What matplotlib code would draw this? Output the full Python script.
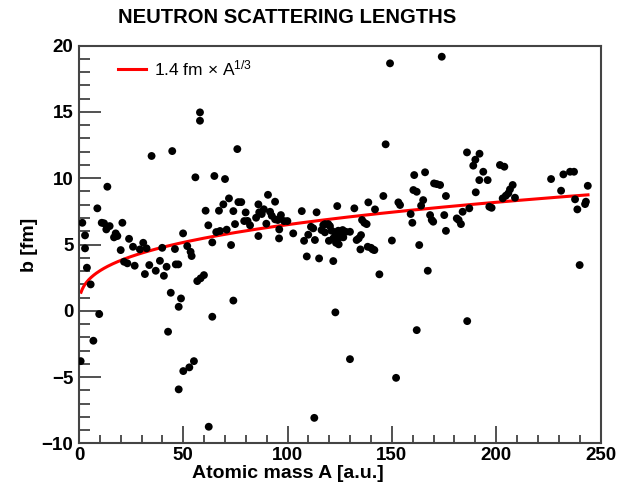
import numpy as np
import matplotlib.pyplot as plt

plt.rcParams['font.family'] = ['Liberation Sans', 'DejaVu Sans']
plt.rcParams['mathtext.fontset'] = 'custom'
plt.rcParams['mathtext.rm'] = 'Liberation Sans'
plt.rcParams['mathtext.it'] = 'Liberation Sans:italic'

# atomic mass A [a.u.] and scattering length b [fm]
mass = [
    0.8, 1.6, 2.9, 2.9, 3.8, 5.6, 6.9, 8.8, 9.7, 10.9, 12.0, 13.1, 13.6, 14.7,
    16.8, 17.6, 18.4, 20.0, 20.8, 21.6, 23.2, 24.0, 25.9, 26.7, 29.2, 30.8,
    31.6, 32.4, 33.7, 34.8, 36.8, 38.8, 39.9, 40.7, 42.0, 42.7, 44.0, 44.7,
    46.0, 46.4, 47.6, 47.8, 47.8, 48.9, 49.9, 50.0, 51.9, 52.9, 53.5, 54.0,
    55.1, 55.8, 56.7, 58.0, 58.0, 58.3, 59.9, 60.7, 62.0, 62.2, 63.9, 63.9,
    64.9, 65.8, 67.6, 67.1, 69.2, 70.0, 70.8, 71.9, 72.9, 74.0, 74.0, 74.8,
    75.9, 76.4, 77.8, 79.2, 79.9, 80.8, 82.0, 84.9, 86.0, 86.0, 86.4, 87.6,
    88.6, 89.8, 90.6, 91.6, 92.4, 94.0, 94.0, 95.3, 95.9, 96.0, 96.8, 98.3,
    99.9, 102.7, 106.8, 107.9, 109.2, 109.9, 111.2, 112.3, 112.8, 113.1,
    113.9, 115.1, 117.1, 117.9, 119.5, 120.3, 116.3, 117.9, 121.1, 122.7,
    124.3, 119.8, 121.9, 123.2, 121.9, 122.9, 123.8, 124.5, 124.8, 125.6,
    126.4, 126.7, 127.9, 129.9, 129.9, 132.0, 133.1, 134.1, 135.2, 134.9,
    135.7, 136.8, 137.9, 138.4, 140.0, 140.8, 141.6, 138.7, 141.9, 144.0,
    145.9, 147.0, 149.1, 150.0, 152.0, 153.1, 153.9, 159.0, 159.8, 160.3,
    161.9, 160.7, 161.9, 163.1, 164.0, 165.0, 165.9, 167.2, 168.3, 169.1,
    169.8, 170.2, 171.5, 173.1, 173.9, 175.1, 175.9, 175.9, 181.1, 182.0,
    183.1, 183.9, 186.0, 192.0, 190.0, 189.0, 186.1, 187.1, 190.2, 191.9,
    195.9, 193.8, 196.7, 197.8, 201.8, 203.9, 203.1, 204.6, 205.8, 206.6,
    207.9, 209.0, 226.3, 231.1, 232.2, 235.4, 237.3, 237.8, 238.9, 240.0,
    242.6, 243.0, 243.9,
]
b_fm = [
    -3.8, 6.64, 5.69, 4.71, 3.25, 1.99, -2.26, 7.73, -0.25, 6.64, 6.6, 6.14,
    9.36, 6.39, 5.54, 5.84, 5.64, 4.58, 6.64, 3.7, 3.58, 5.43, 4.83, 3.4,
    4.63, 5.13, 2.77, 4.71, 3.45, 11.68, 3.02, 3.77, 4.75, 2.64, 3.32, -1.58,
    1.36, 12.05, 4.66, 3.5, 3.5, 0.3, -5.93, 0.93, 5.84, -4.55, 4.88, -4.27,
    4.45, 4.13, -3.8, 10.07, 2.24, 14.97, 14.34, 2.45, 2.69, 7.55, 6.45,
    -8.75, 5.16, -0.45, 10.17, 5.94, 6.02, 7.55, 8.03, 9.94, 6.12, 8.48,
    4.96, 7.52, 0.77, 6.54, 12.2, 8.2, 8.2, 6.77, 7.42, 6.78, 6.45, 7.02,
    8.03, 5.64, 7.43, 7.3, 7.66, 6.57, 8.75, 7.47, 7.17, 8.23, 6.9, 6.85,
    5.46, 6.14, 7.22, 6.77, 6.77, 5.84, 7.52, 5.28, 4.1, 5.74, 6.34, 6.22,
    -8.08, 5.34, 7.43, 3.95, 6.47, 6.54, 6.54, 6.39, 6.09, 5.92, 6.04, 5.92,
    6.04, 5.28, 5.46, 5.13, 3.75, -0.12, 7.9, 5.01, 5.54, 5.79, 6.09, 5.54,
    5.96, 5.96, -3.65, 7.73, 5.34, 5.46, 5.71, 4.63, 6.85, 6.64, 6.54, 4.83,
    4.75, 4.63, 4.58, 8.18, 7.65, 2.75, 8.66, 12.56, 18.67, 5.3, -5.06, 8.18,
    7.98, 7.3, 6.64, 9.11, 8.98, 10.24, -1.46, 4.96, 7.93, 8.35, 10.45, 3.02,
    7.22, 6.85, 6.72, 9.61, 9.56, 9.49, 19.17, 7.22, 8.66, 6.03, 6.97, 6.85,
    6.54, 7.47, 11.95, 11.85, 11.4, 10.95, -0.78, 7.73, 8.94, 9.86, 9.86,
    10.49, 7.85, 7.77, 11.0, 10.87, 8.48, 8.68, 8.86, 9.16, 9.49, 8.53, 9.94,
    9.06, 10.29, 10.49, 10.49, 8.41, 7.65, 3.45, 8.05, 8.23, 9.43,
]

# model curve b = r0 * A^(1/3)
r0 = 1.4
a_min, a_max = 1.0, 244.0

fig = plt.figure(figsize=(6.18, 4.99), dpi=100)
ax = fig.add_axes([0.1278, 0.1116, 0.8439, 0.7968])

ax.scatter(mass, b_fm, s=32, c='black', edgecolors='none', zorder=3)

a_curve = np.linspace(a_min, a_max, 400)
ax.plot(a_curve, r0 * a_curve ** (1 / 3), color='red', lw=2.2, zorder=2,
        label=r'1.4 fm $\times$ A$^{1/3}$')

ax.set_xlim(0, 250)
ax.set_ylim(-10, 20)
ax.set_xticks(np.arange(0, 251, 50))
ax.set_xticks(np.arange(0, 251, 10), minor=True)
ax.set_yticks(np.arange(-10, 21, 5))
ax.set_yticks(np.arange(-10, 21, 1), minor=True)

ax.tick_params(which='both', direction='in', top=False, right=False,
               width=1.2, color='#333333')
ax.tick_params(axis='y', which='major', length=16, pad=4)
ax.tick_params(axis='y', which='minor', length=8)
ax.tick_params(axis='x', which='major', length=12, pad=3)
ax.tick_params(axis='x', which='minor', length=6)
for lab in ax.get_xticklabels() + ax.get_yticklabels():
    lab.set_fontweight('bold')
    lab.set_fontsize(13.5)
for sp in ax.spines.values():
    sp.set_linewidth(1.5)
    sp.set_color('#444444')

leg = ax.legend(loc='upper left', frameon=False, fontsize=12.5,
                handlelength=1.6, handletextpad=0.45, borderpad=0,
                borderaxespad=0, bbox_to_anchor=(0.075, 0.968))

fig.text(0.465, 0.965, 'NEUTRON SCATTERING LENGTHS', ha='center', va='center',
         fontsize=14.6, fontweight='bold')
fig.text(0.466, 0.052, 'Atomic mass A [a.u.]', ha='center', va='center',
         fontsize=14, fontweight='bold')
fig.text(0.048, 0.51, 'b [fm]', ha='center', va='center', rotation=90,
         fontsize=14, fontweight='bold')

fig.savefig('out.png', dpi=100)
